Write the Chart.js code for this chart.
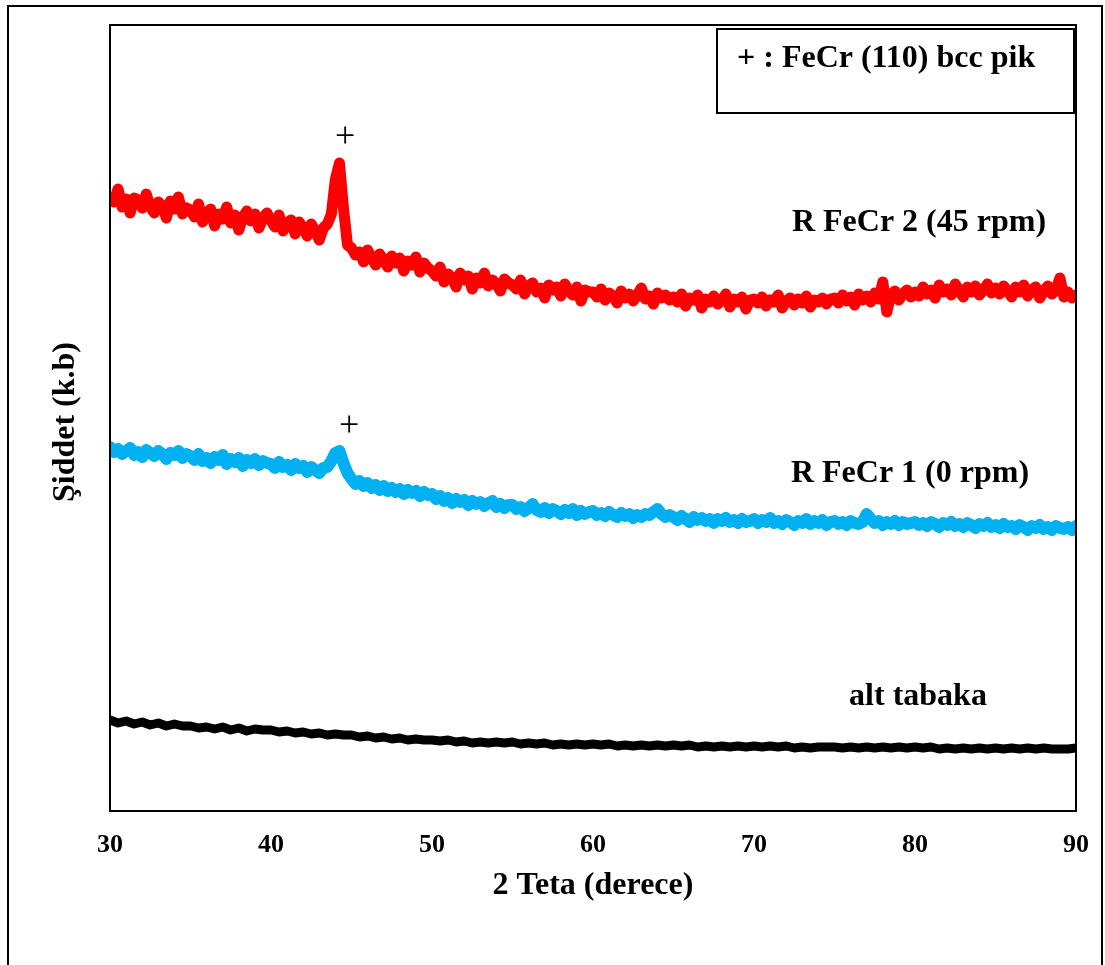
<!DOCTYPE html>
<html>
<head>
<meta charset="utf-8">
<script src="https://cdn.jsdelivr.net/npm/chart.js@4.4.0/dist/chart.umd.min.js"></script>
<style>
  html, body { margin: 0; padding: 0; background: #fff; }
  canvas { display: block; }
</style>
</head>
<body>
<canvas id="xrd" width="1105" height="965"></canvas>
<script>
// scan grids (2 theta, degrees)
function scanGrid(start, end, step) {
  const out = [];
  for (let v = start; v <= end + 1e-9; v += step) out.push(Math.round(v * 100) / 100);
  return out;
}
const twoThetaFine = scanGrid(30, 90, 0.25);
const twoThetaCoarse = scanGrid(30, 90, 0.5);

const xTicks = [30, 40, 50, 60, 70, 80, 90];

// R FeCr 2 (45 rpm), arbitrary units, 0.25 deg step
const rFeCr2 = [
  614, 609, 622, 604, 612, 598, 613, 611, 603, 617, 604, 598, 609, 605, 593, 610, 602, 614, 597, 603,
  601, 594, 607, 589, 598, 602, 585, 597, 592, 604, 588, 596, 581, 594, 600, 590, 597, 583, 593, 598,
  590, 584, 596, 580, 588, 591, 577, 589, 583, 575, 587, 580, 571, 583, 587, 597, 632, 648, 603, 566,
  563, 556, 559, 549, 561, 553, 546, 557, 551, 544, 555, 548, 553, 540, 550, 546, 554, 539, 548, 543,
  540, 535, 544, 529, 537, 533, 524, 538, 531, 535, 522, 533, 528, 538, 525, 531, 527, 520, 532, 528,
  526, 522, 531, 517, 525, 528, 519, 523, 513, 526, 521, 524, 515, 527, 520, 516, 524, 510, 521, 519,
  519, 514, 522, 511, 518, 515, 508, 520, 513, 517, 510, 516, 523, 512, 515, 507, 518, 513, 516, 511,
  514, 509, 517, 505, 513, 511, 516, 503, 512, 509, 515, 507, 511, 517, 504, 512, 509, 514, 502, 511,
  512, 508, 514, 505, 511, 509, 516, 503, 510, 513, 506, 512, 508, 515, 504, 511, 509, 513, 507, 512,
  513, 508, 516, 510, 514, 506, 517, 511, 515, 509, 518, 512, 529, 499, 516, 520, 511, 517, 521, 514,
  519, 515, 524, 517, 521, 513, 526, 519, 522, 516, 527, 520, 514, 524, 519, 525, 516, 521, 527, 518,
  523, 517, 525, 520, 514, 524, 519, 526, 515, 521, 524, 513, 520, 525, 517, 521, 533, 514, 519, 513,
  516
];

// R FeCr 1 (0 rpm), 0.25 deg step
const rFeCr1 = [
  364, 359, 362, 357, 360, 363, 356, 359, 354, 361, 358, 355, 360, 357, 352, 358, 356, 360, 353, 357,
  355, 351, 357, 350, 353, 348, 354, 351, 356, 347, 352, 349, 353, 345, 351, 348, 352, 346, 350, 348,
  347, 343, 349, 344, 346, 341, 347, 343, 345, 339, 344, 341, 338, 343, 344, 350, 358, 360, 348, 338,
  332, 327, 330, 325, 328, 323, 326, 321, 325, 320, 323, 319, 322, 317, 321, 318, 320, 315, 319, 316,
  317, 312, 315, 310, 313, 308, 312, 309, 311, 306, 310, 307, 309, 305, 308, 310, 304, 307, 303, 306,
  306, 302, 304, 300, 303, 307, 301, 299, 303, 298, 302, 300, 297, 301, 298, 302, 296, 300, 297, 299,
  300, 296, 298, 295, 299, 296, 294, 298, 295, 297, 293, 296, 294, 297, 296, 299, 302, 297, 294, 296,
  294, 291, 295, 292, 289, 294, 291, 293, 290, 292, 288, 292, 290, 293, 289, 291, 288, 292, 289, 290,
  292, 288, 291, 289, 293, 288, 290, 287, 291, 289, 286, 290, 288, 292, 287, 290, 288, 291, 286, 289,
  290, 287, 289, 286, 290, 288, 287, 289, 297, 292, 288, 290, 286, 289, 287, 290, 286, 289, 287, 288,
  289, 286, 288, 285, 289, 287, 284, 288, 286, 289, 285, 287, 284, 288, 286, 283, 287, 285, 288, 284,
  286, 283, 287, 284, 285, 282, 286, 284, 281, 285, 283, 286, 282, 284, 281, 285, 283, 282, 284, 281,
  285
];

// alt tabaka (substrate), 0.5 deg step
const altTabaka = [
  91, 88, 90, 87, 89, 86, 88, 85, 87, 85,
  85, 83, 84, 82, 84, 81, 83, 80, 82, 81,
  81, 79, 80, 78, 79, 77, 78, 76, 77, 76,
  76, 74, 75, 73, 74, 72, 73, 71, 72, 71,
  71, 70, 71, 69, 70, 68, 69, 68, 69, 68,
  69, 67, 68, 67, 68, 66, 67, 66, 67, 66,
  67, 66, 67, 65, 66, 65, 66, 65, 66, 65,
  66, 65, 66, 64, 65, 64, 65, 64, 65, 64,
  65, 64, 65, 64, 65, 63, 64, 63, 64, 64,
  64, 63, 64, 63, 64, 63, 64, 63, 64, 63,
  64, 63, 64, 62, 63, 62, 63, 62, 63, 62,
  63, 62, 63, 62, 63, 62, 63, 62, 62, 62,
  63
];

const pairs = (xs, ys) => xs.map((x, i) => ({ x: x, y: ys[i] }));

const SERIF = '"Liberation Serif", "Times New Roman", serif';

// frames, labels, peak markers and the note box
const decorations = {
  id: 'decorations',
  afterDraw(chart) {
    const ctx = chart.ctx;
    const a = chart.chartArea;
    const xs = chart.scales.x, ys = chart.scales.y;
    ctx.save();
    ctx.strokeStyle = '#000';
    ctx.lineWidth = 2;
    ctx.strokeRect(8, 6, 1094, 1000);
    ctx.strokeRect(a.left, a.top, a.right - a.left, a.bottom - a.top);

    // note box
    ctx.fillStyle = '#fff';
    ctx.fillRect(717, 29, 357, 84);
    ctx.strokeRect(717, 29, 357, 84);

    ctx.fillStyle = '#000';
    ctx.font = 'bold 32px ' + SERIF;
    ctx.textBaseline = 'middle';
    ctx.textAlign = 'left';
    ctx.fillText('+ : FeCr (110) bcc pik', 737, 59);

    ctx.textAlign = 'center';
    ctx.fillText('R FeCr 2 (45 rpm)', 919, 223);
    ctx.fillText('R FeCr 1 (0 rpm)', 910, 474);
    ctx.fillText('alt tabaka', 918, 697);
    ctx.fillText('2 Teta (derece)', 593, 886);

    ctx.save();
    ctx.translate(66, 422);
    ctx.rotate(-Math.PI / 2);
    ctx.fillText('Şiddet (k.b)', 0, 0);
    ctx.restore();

    // peak markers
    ctx.font = '36px ' + SERIF;
    ctx.fillText('+', xs.getPixelForValue(44.6), ys.getPixelForValue(673));
    ctx.fillText('+', xs.getPixelForValue(44.85), ys.getPixelForValue(384));
    ctx.restore();
  }
};

const ctx = document.getElementById('xrd').getContext('2d');
const chart = new Chart(ctx, {
  type: 'scatter',
  data: {
    datasets: [{
      label: 'R FeCr 2 (45 rpm)',
      data: pairs(twoThetaFine, rFeCr2),
      borderColor: '#FF0000',
      borderWidth: 11
    }, {
      label: 'R FeCr 1 (0 rpm)',
      data: pairs(twoThetaFine, rFeCr1),
      borderColor: '#00B0F0',
      borderWidth: 12
    }, {
      label: 'alt tabaka',
      data: pairs(twoThetaCoarse, altTabaka),
      borderColor: '#000000',
      borderWidth: 9
    }]
  },
  options: {
    responsive: false,
    animation: false,
    devicePixelRatio: 1,
    showLine: true,
    elements: {
      point: { radius: 0, hoverRadius: 0 },
      line: { tension: 0, borderJoinStyle: 'round', borderCapStyle: 'round' }
    },
    layout: { padding: { left: 110, top: 25, right: 29, bottom: 0 } },
    plugins: { legend: { display: false }, tooltip: { enabled: false } },
    scales: {
      x: {
        type: 'linear',
        min: 30,
        max: 90,
        afterBuildTicks: (s) => { s.ticks = xTicks.map(v => ({ value: v })); },
        afterFit: (s) => { s.height = 154; s.paddingLeft = 0; s.paddingRight = 0; },
        grid: { display: false, drawTicks: false },
        border: { display: false },
        ticks: {
          color: '#000',
          padding: 19,
          maxRotation: 0,
          font: { family: SERIF, size: 26, weight: 'bold' }
        }
      },
      y: {
        display: false,
        min: 0,
        max: 786
      }
    }
  },
  plugins: [decorations]
});
</script>
</body>
</html>
